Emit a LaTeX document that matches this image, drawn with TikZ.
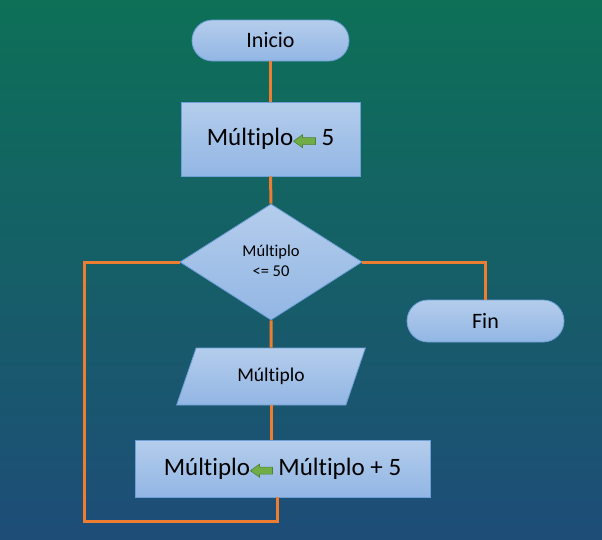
\documentclass[tikz,border=0pt]{standalone}
\usepackage{fontspec}
\setmainfont{Carlito}[Ligatures=NoCommon]
\usetikzlibrary{shapes.geometric,shapes.misc}
\definecolor{bgtop}{RGB}{13,112,87}
\definecolor{bgbot}{RGB}{30,77,120}
\definecolor{nodetop}{RGB}{180,205,236}
\definecolor{nodebot}{RGB}{146,182,228}
\definecolor{nodeborder}{RGB}{110,160,215}
\definecolor{linkcol}{RGB}{237,125,49}
\definecolor{arrowgreen}{RGB}{112,173,71}
\definecolor{arrowdark}{RGB}{80,130,50}
\newcommand\garrow{\tikz[baseline=0pt,x=1pt,y=1pt]\filldraw[fill=arrowgreen,draw=arrowdark,line width=0.6pt] (0,4.5) -- (9,11) -- (9,8) -- (22,8) -- (22,1) -- (9,1) -- (9,-2) -- cycle;}
\tikzset{
  shapebox/.style={draw=nodeborder, line width=0.8pt, top color=nodetop, bottom color=nodebot, text=black, inner sep=0pt},
  termbox/.style={shapebox, rounded rectangle, minimum height=41pt, font=\fontsize{22}{26}\selectfont},
  procbox/.style={shapebox, rectangle, font=\fontsize{25}{30}\selectfont},
  link/.style={draw=linkcol, line width=3pt}
}
\begin{document}
\begin{tikzpicture}[x=1pt,y=-1pt]
\fill[top color=bgtop, bottom color=bgbot] (0,0) rectangle (602,539);
\useasboundingbox (0,0) rectangle (602,539);

\node[termbox, minimum width=157pt] (start) at (270.5,40.5) {Inicio};
\node[procbox, minimum width=179pt, minimum height=74pt] (init) at (270.5,139) {Múltiplo\garrow{} 5};
\node[shapebox, diamond, minimum width=182pt, minimum height=116pt, align=center, font=\fontsize{16.5}{20}\selectfont] (cond) at (271,262) {\raisebox{3pt}{\begin{tabular}{@{}c@{}}Múltiplo\\[0pt]\textless= 50\end{tabular}}};
\node[termbox, minimum width=157pt, minimum height=42pt] (fin) at (485.5,321) {Fin};
\node[shapebox, trapezium, trapezium left angle=62.24, trapezium right angle=117.76, trapezium stretches=true, minimum width=190pt, minimum height=57pt, font=\fontsize{19.5}{23}\selectfont] (out) at (271,376.5) {Múltiplo};
\node[procbox, minimum width=295pt, minimum height=57pt] (incr) at (282.5,468.5) {Múltiplo\garrow{} Múltiplo + 5};

\coordinate (l1) at (277,521);
\coordinate (l2) at (84,521);

\draw[link] (start.south) -- (init.north);
\draw[link] (init.south) -- (cond.north);
\draw[link] (cond.south) -- (out.north);
\draw[link] (out.south) -- (out.south |- incr.north);
\draw[link] (incr.south -| l1) -- (l1) -- (l2) |- (cond.west);
\draw[link] (cond.east) -| (fin.north);
\end{tikzpicture}
\end{document}
